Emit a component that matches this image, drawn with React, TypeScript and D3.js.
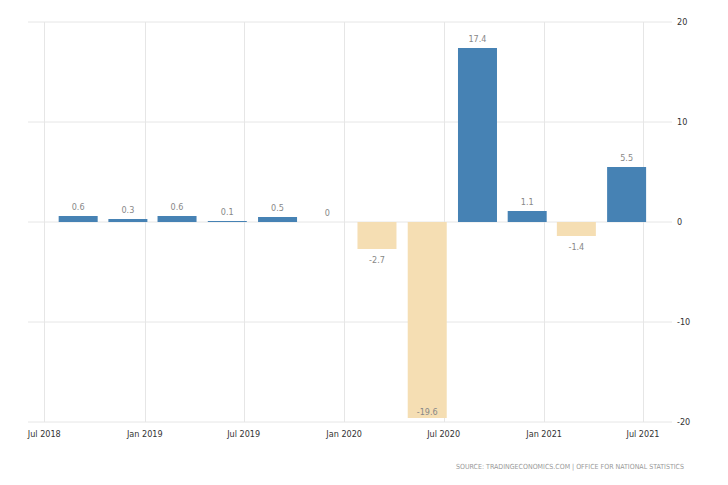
import React from "react";
import * as d3 from "d3";

const quarters: string[] = [
  "2018-09-01", "2018-12-01", "2019-03-01", "2019-06-01",
  "2019-09-01", "2019-12-01", "2020-03-01", "2020-06-01",
  "2020-09-01", "2020-12-01", "2021-03-01", "2021-06-01",
];
const growth: number[] = [0.6, 0.3, 0.6, 0.1, 0.5, 0, -2.7, -19.6, 17.4, 1.1, -1.4, 5.5];
const yTicks: number[] = [-20, -10, 0, 10, 20];
const xTickDates: string[] = [
  "2018-07-01", "2019-01-01", "2019-07-01", "2020-01-01",
  "2020-07-01", "2021-01-01", "2021-07-01",
];
const sourceText = "SOURCE: TRADINGECONOMICS.COM | OFFICE FOR NATIONAL STATISTICS";

const W = 728;
const H = 485;
const FONT = "'DejaVu Sans Condensed', 'DejaVu Sans', sans-serif";

export default function App() {
  const parse = d3.timeParse("%Y-%m-%d");
  const x = d3
    .scaleTime()
    .domain([parse("2018-07-01")!, parse("2021-07-01")!])
    .range([44.3, 643]);
  const y = d3.scaleLinear().domain([-20, 20]).range([422, 22]);
  const fmt = d3.timeFormat("%b %Y");
  const barW = 39;
  const gridL = 28;
  const gridR = 672;

  return (
    <div style={{ position: "fixed", left: 0, top: 0, width: W, height: H, background: "#fff" }}>
      <svg width={W} height={H} style={{ display: "block" }}>
        {/* horizontal gridlines */}
        {yTicks.map((t) => (
          <line key={"h" + t} x1={gridL} x2={gridR} y1={y(t)} y2={y(t)} stroke="#e6e6e6" strokeWidth={1} />
        ))}
        {/* vertical gridlines */}
        {xTickDates.map((s) => {
          const xx = Math.round(x(parse(s)!)) + 0.5;
          return <line key={"v" + s} x1={xx} x2={xx} y1={y(20)} y2={y(-20)} stroke="#e6e6e6" strokeWidth={1} />;
        })}
        {/* bars */}
        {growth.map((v, i) => {
          const cx = x(parse(quarters[i])!);
          const y0 = y(0);
          const yv = y(v);
          const top = Math.min(y0, yv);
          const h = Math.abs(yv - y0);
          return (
            <rect key={"b" + i} x={cx - barW / 2} y={top} width={barW} height={h} fill={v >= 0 ? "#4682b4" : "#f5deb3"} />
          );
        })}
        {/* bar labels */}
        {growth.map((v, i) => {
          const cx = x(parse(quarters[i])!);
          const yv = y(v);
          let ly: number;
          if (v >= 0) ly = yv - 9.5;
          else {
            ly = yv + 11;
            if (ly > y(-20) - 4) ly = yv - 6;
          }
          return (
            <text key={"l" + i} x={cx} y={ly} textAnchor="middle" dominantBaseline="central" fontFamily={FONT} fontSize={9} fill="#888">
              {String(v)}
            </text>
          );
        })}
        {/* y labels */}
        {yTicks.map((t) => (
          <text key={"yl" + t} x={677} y={y(t)} dominantBaseline="central" fontFamily={FONT} fontSize={9} fill="#333">
            {String(t)}
          </text>
        ))}
        {/* x labels */}
        {xTickDates.map((s) => (
          <text key={"xl" + s} x={x(parse(s)!)} y={434} textAnchor="middle" dominantBaseline="central" fontFamily={FONT} fontSize={9} fill="#333">
            {fmt(parse(s)!)}
          </text>
        ))}
        <text x={456} y={468.5} fontFamily={FONT} fontSize={7} fill="#999" textLength={228} lengthAdjust="spacing">
          {sourceText}
        </text>
      </svg>
    </div>
  );
}
